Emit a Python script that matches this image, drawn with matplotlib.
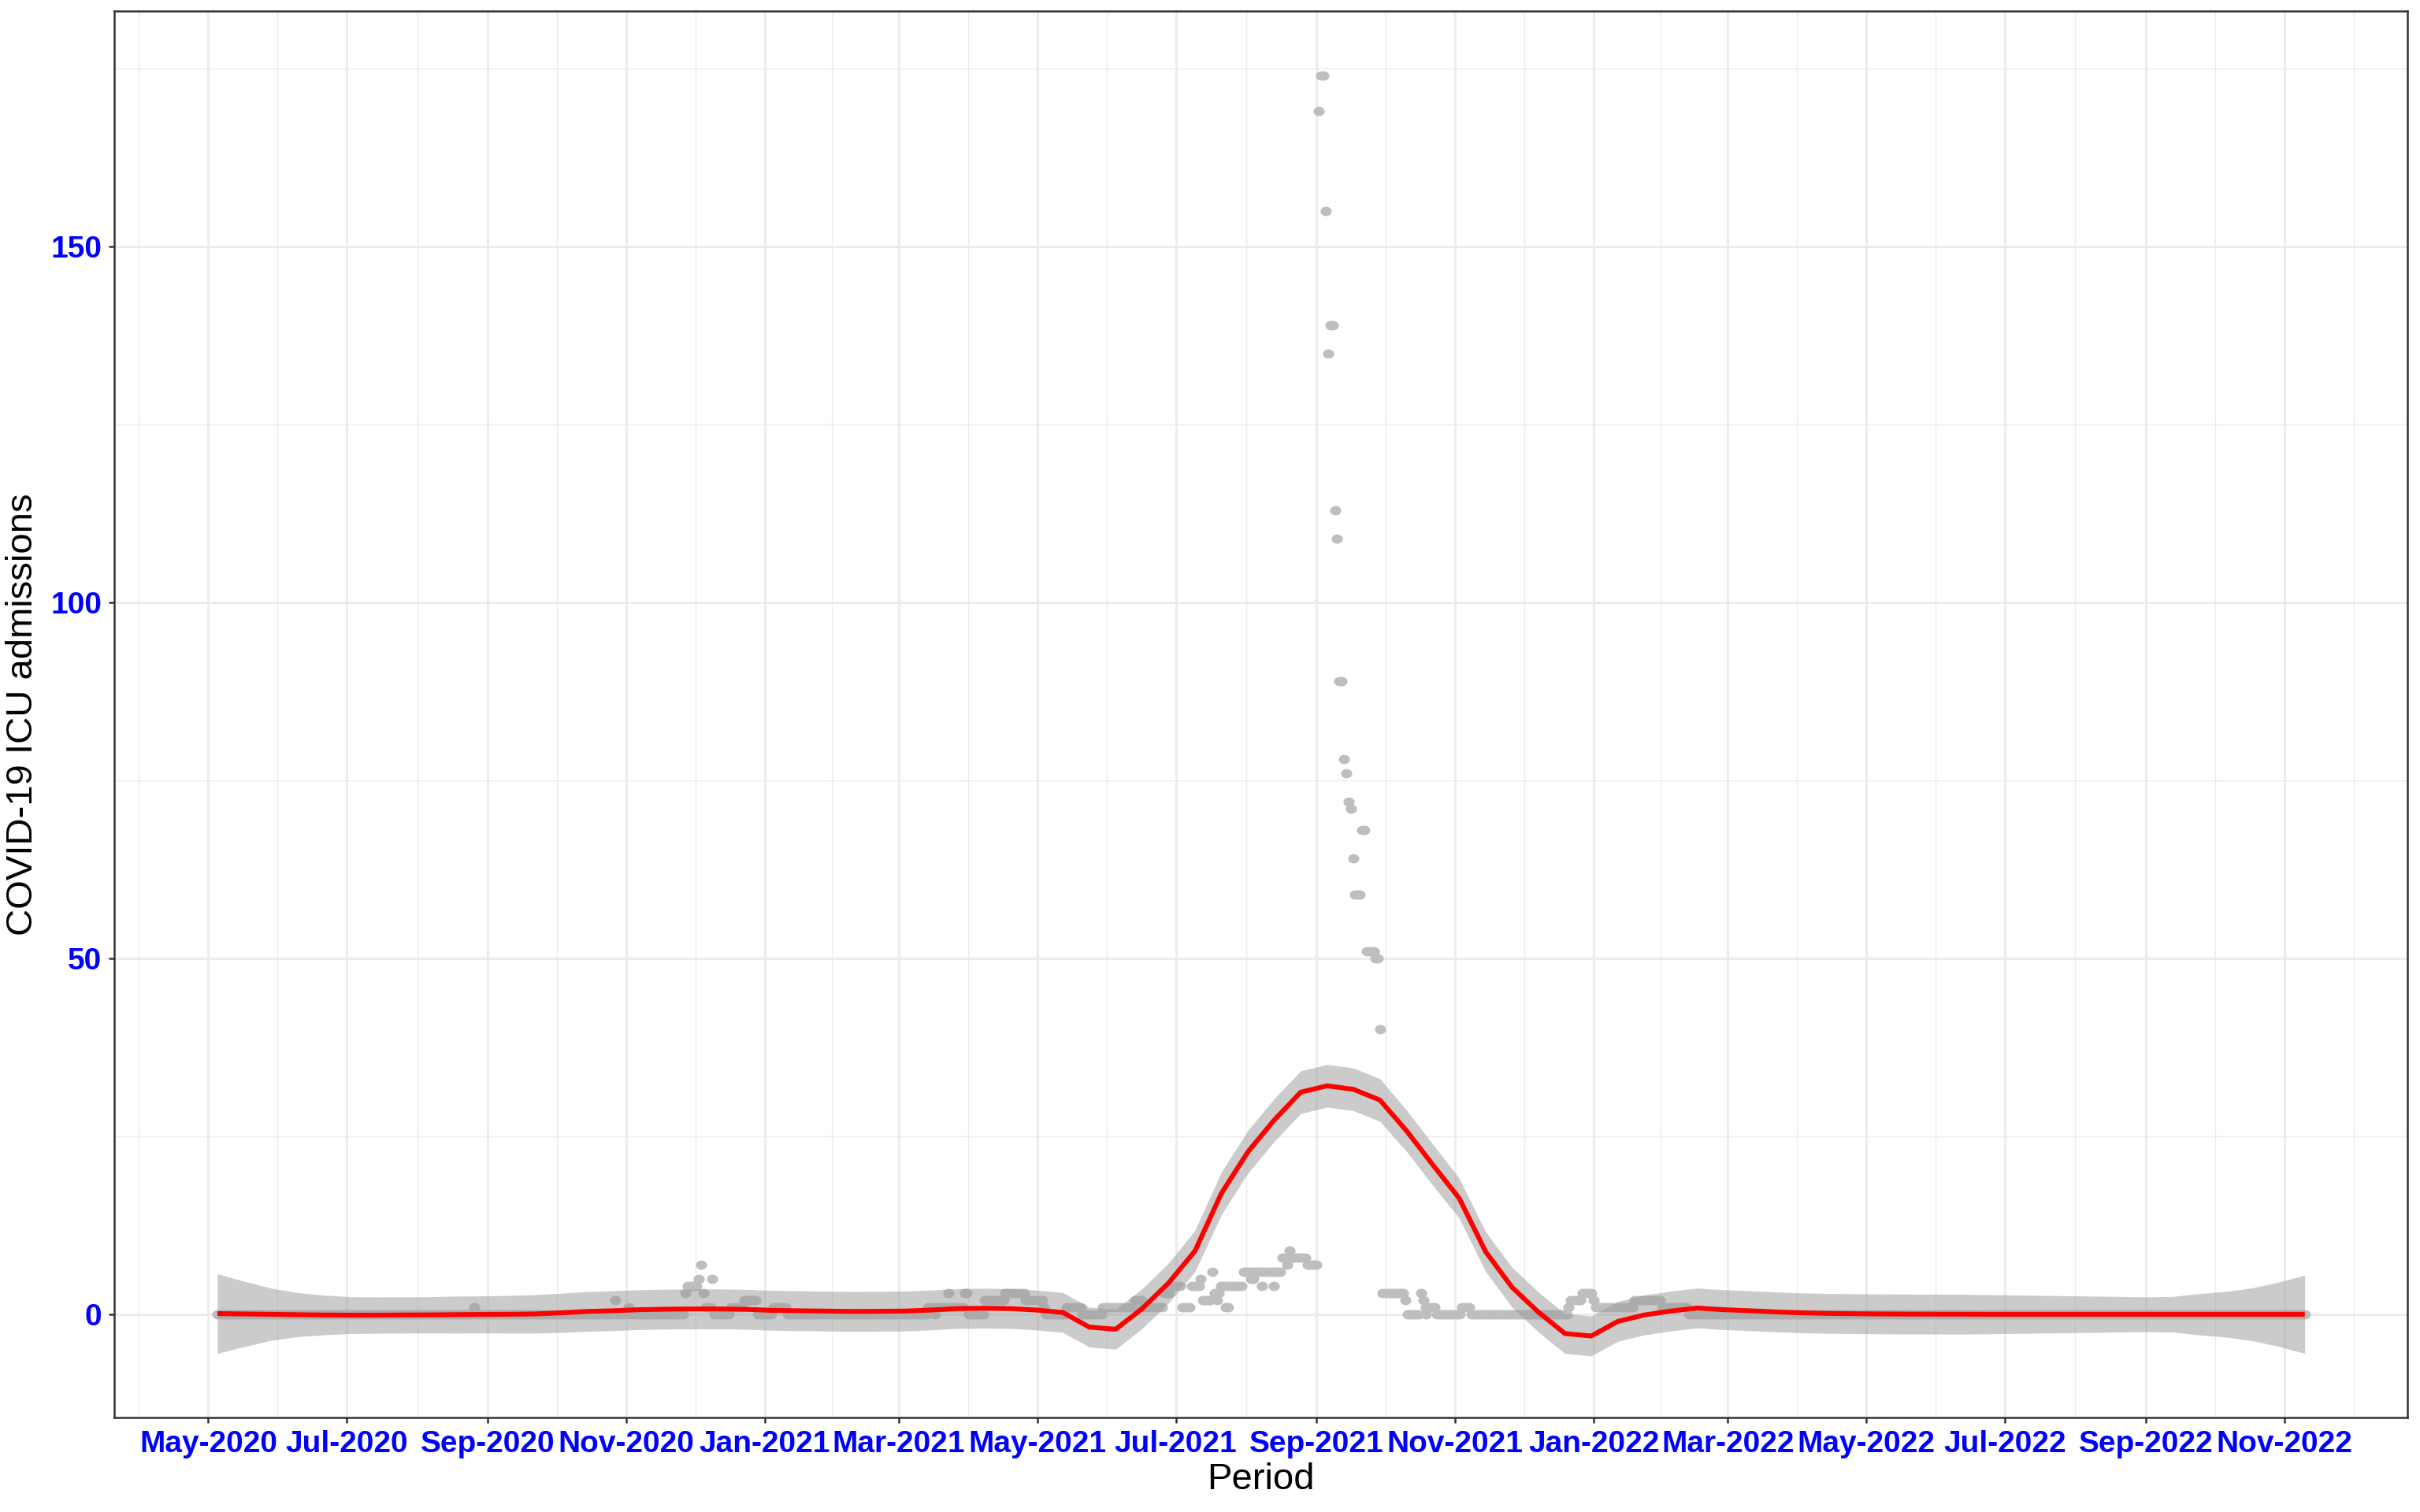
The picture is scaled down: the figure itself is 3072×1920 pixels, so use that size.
import numpy as np
import matplotlib
matplotlib.use("Agg")
import matplotlib.pyplot as plt
import matplotlib.dates as mdates
from matplotlib.path import Path

# ---------------- data ----------------
base_date = np.datetime64("2020-05-01")

# daily ICU admissions as runs: start day (offset from base_date), run length, value
seg_start = [4, 117, 118, 179, 180, 185, 186, 210, 211, 216, 217, 218, 219, 222, 223, 230, 236,
             242, 249, 255, 317, 320, 321, 326, 327, 333, 335, 342, 351, 360, 368, 369, 378, 385,
             394, 408, 412, 421, 424, 429, 433, 437, 438, 442, 443, 446, 456, 473, 476, 477, 484,
             517, 527, 528, 534, 535, 536, 541, 552, 556, 599, 600, 605, 610, 611, 628, 640, 652]
seg_len = [113, 1, 61, 1, 5, 1, 24, 1, 5, 1, 1, 1, 3, 1, 7, 6, 6,
           7, 6, 62, 3, 1, 5, 1, 6, 2, 7, 9, 9, 8, 1, 9, 7, 9,
           14, 4, 9, 3, 5, 4, 4, 1, 4, 1, 3, 10, 17, 3, 1, 7, 5,
           10, 1, 6, 1, 1, 5, 11, 4, 43, 1, 5, 5, 1, 17, 12, 12, 272]
seg_val = [0, 1, 0, 2, 0, 1, 0, 3, 4, 5, 7, 3, 1, 5, 0, 1, 2,
           0, 1, 0, 1, 0, 1, 3, 1, 3, 0, 2, 3, 2, 1, 0, 1, 0,
           1, 2, 1, 3, 4, 1, 4, 5, 2, 6, 3, 4, 6, 8, 9, 8, 7,
           3, 2, 0, 3, 2, 1, 0, 1, 0, 1, 2, 3, 2, 1, 2, 1, 0]

# September 2021 surge (consecutive days starting at spike_start)
spike_start = 489
spike_vals = [169, 174, 174, 155, 135, 139, 139, 113, 109, 89, 89, 78, 76, 72, 71, 64,
              59, 59, 59, 68, 68, 51, 51, 51, 51, 50, 50, 40]

# additional observations sharing a date with another one
extra_day = [444, 448, 449, 459, 460, 464, 469, 475, 536]
extra_val = [2, 1, 1, 5, 5, 4, 4, 7, 0]

# smoother (80 evaluation points between first and last day) and its CI half width
smooth_first_day = 4
smooth_last_day = 923
smooth_fit = [0.1, 0.05, 0.0, -0.05, -0.1, -0.12, -0.12, -0.1, -0.08, -0.05,
              -0.02, 0.0, 0.05, 0.2, 0.4, 0.5, 0.65, 0.72, 0.75, 0.75,
              0.7, 0.55, 0.5, 0.45, 0.4, 0.42, 0.45, 0.6, 0.8, 0.85,
              0.8, 0.6, 0.25, -1.8, -2.1, 0.8, 4.4, 8.9, 17.0, 22.8,
              27.3, 31.2, 32.1, 31.6, 30.1, 25.8, 21.0, 16.3, 8.8, 3.8,
              0.3, -2.7, -3.05, -1.0, -0.1, 0.45, 0.88, 0.65, 0.5, 0.33,
              0.2, 0.12, 0.08, 0.05, 0.03, 0.02, 0.01, 0.0, 0.0, 0.0,
              0.0, 0.0, 0.0, 0.0, 0.0, 0.0, 0.0, 0.0, 0.0, 0.0]
smooth_hw = [5.6, 4.6, 3.7, 3.1, 2.8, 2.6, 2.55, 2.55, 2.55, 2.6,
             2.6, 2.65, 2.7, 2.75, 2.8, 2.8, 2.8, 2.8, 2.8, 2.8,
             2.8, 2.8, 2.8, 2.8, 2.8, 2.8, 2.8, 2.8, 2.8, 2.8,
             2.8, 2.8, 2.8, 2.8, 2.8, 2.8, 2.8, 2.9, 3.0, 3.0,
             3.0, 3.0, 3.0, 3.0, 3.0, 2.9, 2.9, 2.8, 2.8, 2.8,
             2.8, 2.8, 2.8, 2.8, 2.8, 2.8, 2.8, 2.8, 2.8, 2.8,
             2.8, 2.8, 2.8, 2.8, 2.8, 2.8, 2.8, 2.75, 2.7, 2.65,
             2.6, 2.55, 2.5, 2.45, 2.5, 2.9, 3.2, 3.7, 4.5, 5.5]

x_tick_dates = ["2020-05-01", "2020-07-01", "2020-09-01", "2020-11-01", "2021-01-01",
                "2021-03-01", "2021-05-01", "2021-07-01", "2021-09-01", "2021-11-01",
                "2022-01-01", "2022-03-01", "2022-05-01", "2022-07-01", "2022-09-01",
                "2022-11-01"]
x_tick_labels = ["May-2020", "Jul-2020", "Sep-2020", "Nov-2020", "Jan-2021", "Mar-2021",
                 "May-2021", "Jul-2021", "Sep-2021", "Nov-2021", "Jan-2022", "Mar-2022",
                 "May-2022", "Jul-2022", "Sep-2022", "Nov-2022"]
y_ticks = [0, 50, 100, 150]
y_minor = [25, 75, 125, 175]

# ---------------- build series ----------------
days, vals = [], []
for s, l, v in zip(seg_start, seg_len, seg_val):
    days += list(range(s, s + l))
    vals += [v] * l
days += list(range(spike_start, spike_start + len(spike_vals)))
vals += spike_vals
days += extra_day
vals += extra_val


def to_num(day_offsets):
    d = base_date + np.asarray(np.round(np.asarray(day_offsets) * 24), dtype=int).astype("timedelta64[h]")
    return mdates.date2num(d.astype("datetime64[s]"))


x_pts = to_num(days)
y_pts = np.array(vals, dtype=float)

sm_days = np.linspace(smooth_first_day, smooth_last_day, len(smooth_fit))
x_sm = to_num(sm_days)
fit = np.array(smooth_fit)
hw = np.array(smooth_hw)

# slightly wide elliptical point marker (as in the reference rendering)
theta = np.linspace(0, 2 * np.pi, 41)
ell = Path(np.column_stack([1.2 * np.cos(theta), np.sin(theta)]), closed=True)

# ---------------- figure ----------------
plt.rcParams["font.family"] = ["Liberation Sans", "DejaVu Sans"]
fig = plt.figure(figsize=(15.36, 9.6), dpi=200)
ax = fig.add_axes([145 / 3072, 120 / 1920, (3056 - 145) / 3072, (1800 - 14) / 1920])

ax.scatter(x_pts, y_pts, s=26, marker=ell, color="#BEBEBE", linewidths=0, zorder=2)
ax.fill_between(x_sm, fit - hw, fit + hw, color="#999999", alpha=0.5, linewidth=0, zorder=3)
ax.plot(x_sm, fit, color="red", linewidth=2.2, zorder=4, solid_capstyle="butt")

# axes limits
ax.set_xlim(to_num([-41.4])[0], to_num([968.2])[0])
ax.set_ylim(-14.5, 183.1)

# ticks
tick_nums = mdates.date2num(np.array(x_tick_dates, dtype="datetime64[D]").astype("datetime64[s]"))
ax.set_xticks(tick_nums)
ax.set_xticklabels(x_tick_labels)
ext = np.concatenate([[tick_nums[0] - 61], tick_nums, [tick_nums[-1] + 61]])
ax.set_xticks((ext[:-1] + ext[1:]) / 2, minor=True)
ax.set_yticks(y_ticks)
ax.set_yticks(y_minor, minor=True)

for lab in ax.get_xticklabels() + ax.get_yticklabels():
    lab.set_fontweight("bold")
    lab.set_color("blue")
    lab.set_fontsize(14)

ax.tick_params(axis="both", which="major", length=2.6, width=0.9, color="#333333", pad=3)
ax.tick_params(axis="both", which="minor", length=0)

ax.grid(True, which="major", color="#EBEBEB", linewidth=1.0, zorder=0)
ax.grid(True, which="minor", color="#EBEBEB", linewidth=0.5, zorder=0)
ax.set_axisbelow(True)

for sp in ax.spines.values():
    sp.set_color("#333333")
    sp.set_linewidth(0.9)

ax.set_xlabel("Period", fontsize=17, labelpad=2)
ax.set_ylabel("COVID-19 ICU admissions", fontsize=17, labelpad=5)

fig.savefig("out.png", dpi=200, facecolor="white")
